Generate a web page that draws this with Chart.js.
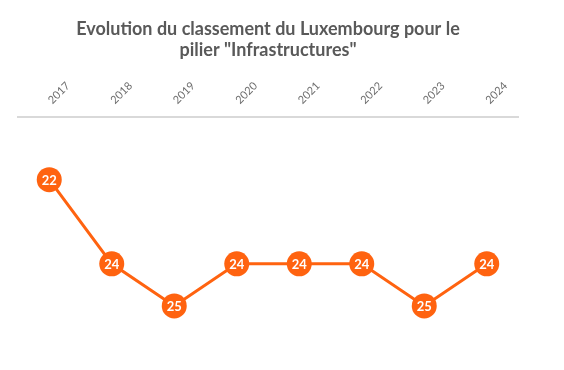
<!DOCTYPE html>
<html>
<head>
<meta charset="utf-8">
<script src="https://cdn.jsdelivr.net/npm/chart.js@4"></script>
<style>
  html, body { margin: 0; padding: 0; background: #ffffff; }
  #wrap { width: 564px; height: 370px; }
</style>
</head>
<body>
<div id="wrap"><canvas id="classement"></canvas></div>
<script>
var annees = ["2017", "2018", "2019", "2020", "2021", "2022", "2023", "2024"];
var rangs = [22, 24, 25, 24, 24, 24, 25, 24];
var titre = ["Evolution du classement du Luxembourg pour le", "pilier \"Infrastructures\""];

var orange = "#FF6310";

// ecrit le rang dans chaque point
var etiquettes = {
    id: "etiquettes",
    afterDatasetsDraw: function(chart) {
        var ctx = chart.ctx;
        var meta = chart.getDatasetMeta(0);
        ctx.save();
        ctx.fillStyle = "#ffffff";
        ctx.font = "bold 13px Lato";
        ctx.textAlign = "center";
        ctx.textBaseline = "middle";
        meta.data.forEach(function(pt, i) {
            ctx.fillText(rangs[i], pt.x, pt.y + 1);
        });
        ctx.restore();
    }
};

var ctx = document.getElementById("classement").getContext("2d");
var myChart = new Chart(ctx, {
    type: "line",
    data: {
        labels: annees,
        datasets: [
            {
                label: "Rang",
                data: rangs,
                borderColor: orange,
                backgroundColor: orange,
                borderWidth: 3,
                pointRadius: 12.5,
                pointBorderWidth: 0,
                pointBackgroundColor: orange,
                tension: 0
            }
        ]
    },
    options: {
        responsive: true,
        maintainAspectRatio: false,
        animation: false,
        layout: { padding: { left: 18, right: 46, top: 14, bottom: 22 } },
        plugins: {
            legend: { display: false },
            tooltip: { enabled: false },
            title: {
                display: true,
                text: titre,
                color: "#595959",
                font: { family: "Lato", size: 18, weight: "bold" },
                padding: { top: 4, bottom: 8 },
                lineHeight: 1.3
            }
        },
        scales: {
            x: {
                position: "top",
                offset: true,
                grid: { display: false, drawTicks: false },
                border: { display: true, color: "#d9d9d9", width: 2 },
                ticks: {
                    color: "#6e6e6e",
                    font: { family: "Lato", size: 11 },
                    maxRotation: 45,
                    minRotation: 45,
                    padding: 10,
                    labelOffset: 10
                }
            },
            y: {
                display: false,
                reverse: true,
                min: 20.5,
                max: 26
            }
        }
    },
    plugins: [etiquettes]
});
</script>
</body>
</html>
